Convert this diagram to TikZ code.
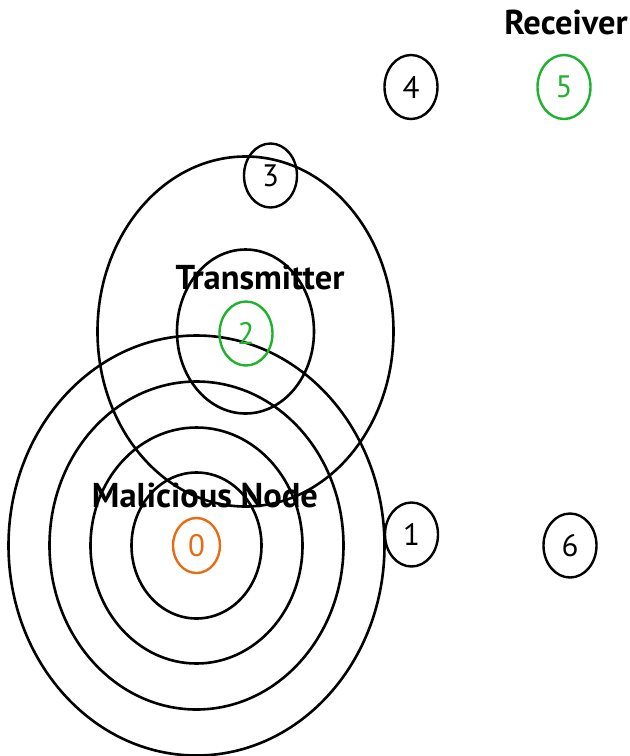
\documentclass[tikz,border=0pt]{standalone}
\usepackage{fontspec}
\setmainfont{PT Sans}
\usetikzlibrary{shapes.geometric}
\definecolor{nodegreen}{RGB}{30,178,45}
\definecolor{nodeorange}{RGB}{232,108,18}
\tikzset{
  ring/.style={draw=black, line width=2.6pt},
  netnode/.style={ellipse, draw=black, line width=2.4pt, inner sep=0pt,
    minimum width=53pt, minimum height=64pt, font=\fontsize{31}{33}\selectfont},
  greennode/.style={netnode, draw=nodegreen, text=nodegreen},
  orangenode/.style={netnode, draw=nodeorange, text=nodeorange,
    minimum width=47pt, minimum height=55pt},
  roletext/.style={font=\bfseries\fontsize{34.5}{36}\selectfont, inner sep=0pt}
}
\begin{document}
\begin{tikzpicture}[x=1pt, y=-1pt]
\useasboundingbox (0,0) rectangle (630,756);
% centres
\coordinate (c0) at (196.5,545.5);
\coordinate (c2) at (245.5,331.5);
% range rings of the malicious node
\draw[ring] (c0) ellipse [x radius=188, y radius=210];
\draw[ring] (c0) ellipse [x radius=147, y radius=164];
\draw[ring] (c0) ellipse [x radius=106, y radius=118];
\draw[ring] (c0) ellipse [x radius=65, y radius=73];
% range rings of the transmitter
\draw[ring] (c2) ellipse [x radius=148, y radius=175];
\draw[ring] (c2) ellipse [x radius=68.5, y radius=82];
% nodes
\node[orangenode] (n0) at (c0) {0};
\node[greennode] (n2) at (246,333.5) {2};
\node[netnode] (n3) at (270.5,175.5) {3};
\node[netnode] (n4) at (411,87) {4};
\node[greennode] (n5) at (564,87) {5};
\node[netnode] (n1) at (411.5,534.5) {1};
\node[netnode] (n6) at (570,545.5) {6};
% labels
\node[roletext, anchor=base] (lmal) at (205,507) {Malicious Node};
\node[roletext, anchor=base] (ltx) at (260,289) {Transmitter};
\node[roletext, anchor=base] (lrx) at (566,34) {Receiver};
\end{tikzpicture}
\end{document}
